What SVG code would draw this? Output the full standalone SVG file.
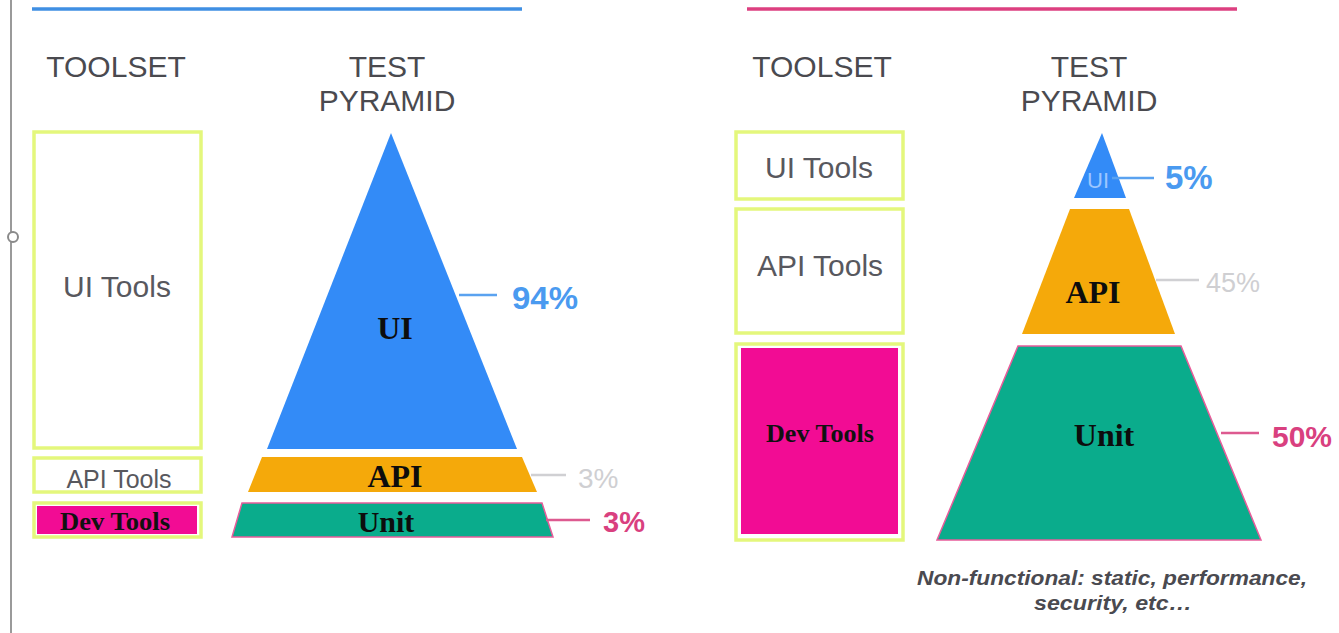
<svg xmlns="http://www.w3.org/2000/svg" width="1339" height="633" viewBox="0 0 1339 633">
  <style>
    .hdr { font-family: "Liberation Sans", Arial, sans-serif; font-size: 30px; fill: #4a4a4f; text-anchor: middle; }
    .tool { fill: #ffffff; stroke: #e4f77c; stroke-width: 3.5; }
    .tooltxt { font-family: "Liberation Sans", Arial, sans-serif; fill: #58585e; text-anchor: middle; }
    .devfill { fill: #f20c94; }
    .devtxt { font-family: "Liberation Serif", "Times New Roman", serif; font-weight: bold; fill: #111; text-anchor: middle; }
    .layer { font-family: "Liberation Serif", "Times New Roman", serif; font-weight: bold; fill: #0d0d0d; text-anchor: middle; }
    .ui { fill: #338bf7; }
    .api { fill: #f5a90a; }
    .unit { fill: #0aac8c; stroke: #e85c9a; stroke-width: 1.5; }
    .pct { font-family: "Liberation Sans", Arial, sans-serif; font-weight: bold; }
    .blue { fill: #4a9af0; }
    .pink { fill: #d9407f; }
    .grey { fill: #cfcfd2; font-weight: normal; }
    .lead { stroke-width: 2.5; fill: none; }
  </style>

  <!-- page edge with a small handle -->
  <line x1="11" y1="0" x2="11" y2="633" stroke="#9a9a9a" stroke-width="2"/>
  <circle cx="13" cy="237" r="5" fill="#ffffff" stroke="#8a8a8a" stroke-width="2"/>

  <!-- section rules -->
  <line x1="32" y1="9" x2="522" y2="9" stroke="#3f8fe3" stroke-width="3.5"/>
  <line x1="747" y1="9" x2="1237" y2="9" stroke="#dd3f80" stroke-width="3.5"/>

  <!-- headings -->
  <g id="headings-left">
    <text class="hdr" x="116" y="77">TOOLSET</text>
    <text class="hdr" x="387" y="77">TEST</text>
    <text class="hdr" x="387" y="111">PYRAMID</text>
  </g>
  <g id="headings-right">
    <text class="hdr" x="822" y="77">TOOLSET</text>
    <text class="hdr" x="1089" y="77">TEST</text>
    <text class="hdr" x="1089" y="111">PYRAMID</text>
  </g>

  <!-- left toolset -->
  <g id="left-ui-tools">
    <rect class="tool" x="34" y="132" width="167" height="316"/>
    <text class="tooltxt" x="117" y="297" font-size="30">UI Tools</text>
  </g>
  <g id="left-api-tools">
    <rect class="tool" x="34" y="458" width="167" height="34"/>
    <text class="tooltxt" x="119" y="488" font-size="25">API Tools</text>
  </g>
  <g id="left-dev-tools">
    <rect class="tool" x="34" y="503" width="167" height="34"/>
    <rect class="devfill" x="37" y="506" width="160" height="28"/>
    <text class="devtxt" x="115" y="530" font-size="25" textLength="110" lengthAdjust="spacingAndGlyphs">Dev Tools</text>
  </g>

  <!-- left pyramid -->
  <g id="left-ui-layer">
    <polygon class="ui" points="391,133 517,449 267,449"/>
    <text class="layer" x="395" y="339" font-size="32">UI</text>
  </g>
  <g id="left-api-layer">
    <polygon class="api" points="262,457 522,457 537,492 248,492"/>
    <text class="layer" x="395" y="487" font-size="32">API</text>
  </g>
  <g id="left-unit-layer">
    <polygon class="unit" points="242,503 542,503 553,537 232,537"/>
    <text class="layer" x="386" y="532" font-size="30">Unit</text>
  </g>

  <!-- right toolset -->
  <g id="right-ui-tools">
    <rect class="tool" x="736" y="132" width="167" height="67"/>
    <text class="tooltxt" x="819" y="178" font-size="30">UI Tools</text>
  </g>
  <g id="right-api-tools">
    <rect class="tool" x="736" y="209" width="167" height="124"/>
    <text class="tooltxt" x="820" y="276" font-size="30">API Tools</text>
  </g>
  <g id="right-dev-tools">
    <rect class="tool" x="736" y="344" width="167" height="196"/>
    <rect class="devfill" x="741" y="348" width="157" height="186"/>
    <text class="devtxt" x="820" y="442" font-size="26" textLength="108" lengthAdjust="spacingAndGlyphs">Dev Tools</text>
  </g>

  <!-- right pyramid -->
  <g id="right-ui-layer">
    <polygon class="ui" points="1102,133 1126,198 1074,198"/>
    <text x="1098" y="188" font-family="Liberation Sans, Arial, sans-serif" font-size="22" fill="#9cc6ff" text-anchor="middle">UI</text>
  </g>
  <g id="right-api-layer">
    <polygon class="api" points="1070,209 1129,209 1175,334 1022,334"/>
    <text class="layer" x="1093" y="303" font-size="32">API</text>
  </g>
  <g id="right-unit-layer">
    <polygon class="unit" points="1018,346 1181,346 1261,540 937,540"/>
    <text class="layer" x="1104" y="446" font-size="32">Unit</text>
  </g>

  <!-- share callouts -->
  <g id="connectors">
    <line class="lead" x1="459" y1="295" x2="497" y2="295" stroke="#5aa2f0"/>
    <line class="lead" x1="531" y1="475" x2="566" y2="475" stroke="#d0d0d3"/>
    <line class="lead" x1="546" y1="520" x2="590" y2="520" stroke="#dd5a90"/>
    <line class="lead" x1="1112" y1="178" x2="1154" y2="178" stroke="#5aa2f0"/>
    <line class="lead" x1="1156" y1="280" x2="1199" y2="280" stroke="#d0d0d3"/>
    <line class="lead" x1="1221" y1="433" x2="1259" y2="433" stroke="#dd5a90"/>
  </g>

  <g id="percent-labels">
    <text class="pct blue" x="512" y="309" font-size="31" textLength="66" lengthAdjust="spacingAndGlyphs">94%</text>
    <text class="pct grey" x="578" y="488" font-size="28">3%</text>
    <text class="pct pink" x="603" y="532" font-size="29">3%</text>
    <text class="pct blue" x="1165" y="189" font-size="33">5%</text>
    <text class="pct grey" x="1206" y="292" font-size="27">45%</text>
    <text class="pct pink" x="1272" y="447" font-size="30">50%</text>
  </g>

  <!-- footnote -->
  <g id="footnote" font-family="Liberation Sans, Arial, sans-serif" font-size="21" font-weight="bold" font-style="italic" fill="#4a4a50" text-anchor="middle">
    <text x="1112" y="585" textLength="390" lengthAdjust="spacingAndGlyphs">Non-functional: static, performance,</text>
    <text x="1113" y="610" textLength="158" lengthAdjust="spacingAndGlyphs">security, etc…</text>
  </g>
</svg>
